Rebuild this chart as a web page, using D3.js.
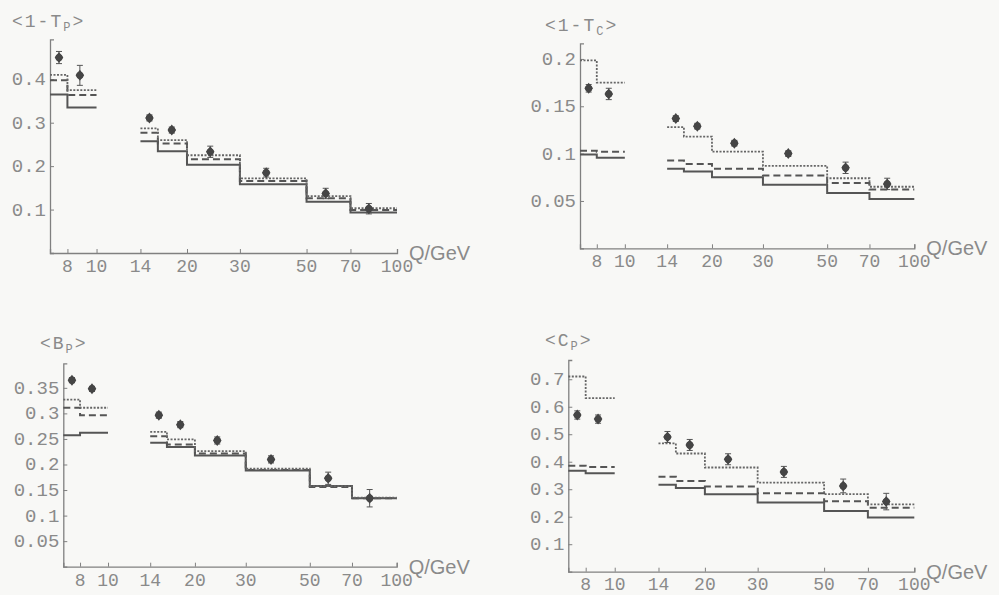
<!DOCTYPE html>
<html>
<head>
<meta charset="utf-8">
<script src="https://cdn.jsdelivr.net/npm/d3@7"></script>
<style>
body { margin: 0; background: #f8f8f6; }
svg { display: block; }
</style>
</head>
<body>
<svg></svg>
<script>
// Q bins (GeV), two separate ranges
const binsLow = [7, 8, 10]
const binsHigh = [14, 16, 20, 30, 50, 70, 100]
const qMean = [7.5, 8.8, 15.0, 17.8, 23.9, 36.7, 57.9, 80.6]
const xTickVals = [8, 10, 14, 20, 30, 50, 70, 100]

// <1-T_P>
const tpData   = [0.450, 0.409, 0.311, 0.283, 0.233, 0.185, 0.137, 0.102]
const tpErr    = [0.014, 0.023, 0.007, 0.007, 0.013, 0.010, 0.012, 0.012]
const tpSolid  = [0.365, 0.335, 0.257, 0.234, 0.203, 0.158, 0.118, 0.093]
const tpDashed = [0.398, 0.364, 0.277, 0.252, 0.216, 0.166, 0.126, 0.099]
const tpDotted = [0.410, 0.375, 0.287, 0.260, 0.225, 0.172, 0.131, 0.103]
const tpTicks  = [0.1, 0.2, 0.3, 0.4]

// <1-T_C>
const tcData   = [0.169, 0.163, 0.137, 0.129, 0.111, 0.100, 0.085, 0.068]
const tcErr    = [0.004, 0.006, 0.003, 0.003, 0.003, 0.003, 0.006, 0.006]
const tcSolid  = [0.099, 0.0955, 0.084, 0.081, 0.075, 0.067, 0.0585, 0.052]
const tcDashed = [0.103, 0.102, 0.0926, 0.089, 0.084, 0.077, 0.069, 0.062]
const tcDotted = [0.1985, 0.175, 0.128, 0.118, 0.102, 0.087, 0.074, 0.065]
const tcTicks  = [0.05, 0.1, 0.15, 0.2]

// <B_P>
const bpData   = [0.365, 0.348, 0.2965, 0.278, 0.247, 0.210, 0.173, 0.134]
const bpErr    = [0.005, 0.005, 0.006, 0.006, 0.007, 0.007, 0.012, 0.017]
const bpSolid  = [0.257, 0.262, 0.2425, 0.234, 0.2177, 0.188, 0.1577, 0.134]
const bpDashed = [0.311, 0.2965, 0.2555, 0.239, 0.2216, 0.189, 0.156, 0.134]
const bpDotted = [0.327, 0.311, 0.264, 0.249, 0.226, 0.1917, 0.1577, 0.135]
const bpTicks  = [0.05, 0.1, 0.15, 0.2, 0.25, 0.3, 0.35]

// <C_P>
const cpData   = [0.570, 0.555, 0.490, 0.461, 0.409, 0.363, 0.312, 0.255]
const cpErr    = [0.015, 0.015, 0.020, 0.020, 0.020, 0.020, 0.025, 0.030]
const cpSolid  = [0.367, 0.358, 0.316, 0.304, 0.282, 0.252, 0.221, 0.197]
const cpDashed = [0.385, 0.381, 0.345, 0.330, 0.310, 0.285, 0.256, 0.233]
const cpDotted = [0.710, 0.631, 0.467, 0.430, 0.379, 0.324, 0.282, 0.245]
const cpTicks  = [0.1, 0.2, 0.3, 0.4, 0.5, 0.6, 0.7]

const W = 999, H = 595
const textCol = '#8a8a8a'
const mono = "'Liberation Mono', 'DejaVu Sans Mono', monospace"

const svg = d3.select('svg')
	.attr('width', W)
	.attr('height', H)
	.style('background-color', '#f8f8f6')

const panels = [
	{ name: '1-T', sub: 'P', data: tpData, err: tpErr, solid: tpSolid, dashed: tpDashed, dotted: tpDotted,
		ticks: tpTicks, ymax: 0.492, left: 50, right: 397, bottom: 253, top: 39.3, tx: 12, ty: 27 },
	{ name: '1-T', sub: 'C', data: tcData, err: tcErr, solid: tcSolid, dashed: tcDashed, dotted: tcDotted,
		ticks: tcTicks, ymax: 0.2165, left: 580, right: 914.3, bottom: 248.3, top: 43.3, tx: 545, ty: 31 },
	{ name: 'B', sub: 'P', data: bpData, err: bpErr, solid: bpSolid, dashed: bpDashed, dotted: bpDotted,
		ticks: bpTicks, ymax: 0.398, left: 63.3, right: 396.7, bottom: 566.7, top: 363.3, tx: 40, ty: 349 },
	{ name: 'C', sub: 'P', data: cpData, err: cpErr, solid: cpSolid, dashed: cpDashed, dotted: cpDotted,
		ticks: cpTicks, ymax: 0.77, left: 568.3, right: 914.3, bottom: 571.7, top: 360, tx: 545, ty: 346 }
]

const fmt = v => String(+v.toFixed(2))

const drawPanel = p => {
	const g = svg.append('g')

	const scX = d3.scaleLog().domain([7, 100]).range([p.left, p.right])
	const scY = d3.scaleLinear().domain([0, p.ymax]).range([p.bottom, p.top])

	// axes
	const xAx = d3.axisTop(scX).tickValues(xTickVals).tickSize(4).tickFormat('')
	const gx = g.append('g').attr('transform', `translate(0, ${p.bottom})`).call(xAx)
	const yAx = d3.axisRight(scY).tickValues(p.ticks).tickSize(4).tickFormat('')
	const gy = g.append('g').attr('transform', `translate(${p.left}, 0)`).call(yAx)
	;[gx, gy].forEach(a => {
		a.select('.domain').attr('stroke', '#808080').attr('stroke-width', 1.3)
		a.selectAll('.tick line').attr('stroke', '#808080').attr('stroke-width', 1)
	})

	g.append('g').selectAll('text')
	.data(xTickVals).enter().append('text')
	.attr('x', d => scX(d))
	.attr('y', Math.min(p.bottom + 19, H - 5))
	.attr('text-anchor', 'middle')
	.style('font-family', mono).style('font-size', '18px')
	.attr('fill', textCol)
	.text(d => d)

	g.append('g').selectAll('text')
	.data(p.ticks).enter().append('text')
	.attr('x', p.left - 4)
	.attr('y', d => scY(d) + 6)
	.attr('text-anchor', 'end')
	.style('font-family', mono).style('font-size', '19px')
	.attr('fill', textCol)
	.text(fmt)

	// title
	const t = g.append('text')
	.attr('x', p.tx).attr('y', p.ty)
	.style('font-family', mono).style('font-size', '18px')
	.style('letter-spacing', '2px')
	.attr('fill', textCol)
	t.append('tspan').text('<' + p.name)
	t.append('tspan').attr('dy', 4).style('font-size', '12px').text(p.sub)
	t.append('tspan').attr('dy', -4).text('>')

	g.append('text')
	.attr('x', p.right + 12).attr('y', p.bottom + 7)
	.style('font-family', "'Liberation Sans', Arial, sans-serif").style('font-size', '20px')
	.attr('fill', textCol)
	.text('Q/GeV')

	// step curves
	const line = d3.line().x(d => scX(d[0])).y(d => scY(d[1])).curve(d3.curveStepAfter)
	const steps = vals => [
		binsLow.map((b, i) => [b, vals[Math.min(i, 1)]]),
		binsHigh.map((b, i) => [b, vals[2 + Math.min(i, 5)]])
	]
	const styles = [
		{ vals: p.solid, dash: null, w: 2, c: '#555' },
		{ vals: p.dashed, dash: '7,4', w: 2, c: '#555' },
		{ vals: p.dotted, dash: '2,1.5', w: 1.8, c: '#666' }
	]
	styles.forEach(s => {
		g.append('g').selectAll('path')
		.data(steps(s.vals)).enter().append('path')
		.attr('d', line)
		.attr('fill', 'none')
		.attr('stroke', s.c)
		.attr('stroke-width', s.w)
		.attr('stroke-dasharray', s.dash)
	})

	// data points with error bars
	const pts = g.append('g').selectAll('g')
	.data(p.data.map((v, i) => ({ q: qMean[i], v, e: p.err[i] })))
	.enter().append('g')
	.attr('transform', d => `translate(${scX(d.q)}, 0)`)

	pts.append('line')
	.attr('y1', d => scY(d.v - d.e)).attr('y2', d => scY(d.v + d.e))
	.attr('stroke', '#555').attr('stroke-width', 1)
	pts.append('line')
	.attr('x1', -3).attr('x2', 3)
	.attr('y1', d => scY(d.v + d.e)).attr('y2', d => scY(d.v + d.e))
	.attr('stroke', '#555').attr('stroke-width', 1)
	pts.append('line')
	.attr('x1', -3).attr('x2', 3)
	.attr('y1', d => scY(d.v - d.e)).attr('y2', d => scY(d.v - d.e))
	.attr('stroke', '#555').attr('stroke-width', 1)
	pts.append('path')
	.attr('d', 'M0,-5.5L4.3,0L0,5.5L-4.3,0Z')
	.attr('transform', d => `translate(0, ${scY(d.v)})`)
	.attr('fill', '#454545')
	pts.append('circle')
	.attr('cy', d => scY(d.v))
	.attr('r', 3.6)
	.attr('fill', '#454545')
}

panels.forEach(drawPanel)
</script>
</body>
</html>
